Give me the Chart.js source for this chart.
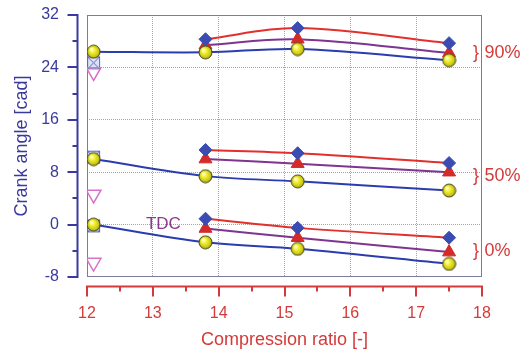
<!DOCTYPE html>
<html><head><meta charset="utf-8">
<script src="https://cdn.jsdelivr.net/npm/chart.js@4"></script>
<style>html,body{margin:0;padding:0;background:#fff;}#wrap{width:528px;height:360px;}</style>
</head><body><div id="wrap"><canvas id="c" width="528" height="360"></canvas></div>
<script>
// ---- data ----
const ratioAll = [12.1, 13.8, 15.2, 17.5];      // compression ratios (blue / circle series)
const ratioNew = [13.8, 15.2, 17.5];            // compression ratios (red & purple series)
const ratioRef = [12.1, 12.1, 12.1];            // reference engine markers

const circle90 = [26.4, 26.3, 26.8, 25.1];
const circle50 = [10.0, 7.4, 6.6, 5.2];
const circle0  = [0.0, -2.7, -3.7, -6.0];

const diamond90 = [28.3, 30.0, 27.7];
const diamond50 = [11.4, 10.9, 9.4];
const diamond0  = [0.9, -0.5, -2.0];

const triangle90 = [27.4, 28.3, 26.2];
const triangle50 = [10.0, 9.3, 8.0];
const triangle0  = [-0.6, -2.0, -4.2];

const squareRef = [24.7, 10.3, -0.2];
const downRef   = [23.3, 4.6, -5.8];

const groupLabels = ['90%', '50%', '0%'];
const groupLabelValues = [26.2, 7.4, -4.0];
const tdcText = 'TDC';
const tdcAt = [13.16, 0.0];

const xTitle = 'Compression ratio [-]';
const yTitle = 'Crank angle [cad]';

// ---- styles ----
const FONT = "'Liberation Sans', Arial, Helvetica, sans-serif";
const BLUE_AXIS = '#3a3a9e';
const RED_AXIS = '#d43a3a';
const C_BLUE = '#2b3cae';
const C_RED = '#e2302c';
const C_PURPLE = '#7e3590';
const NONE = 'rgba(0,0,0,0)';

function pts(xs, ys) { return xs.map((x, i) => ({x: x, y: ys[i]})); }

function sphere(r) {
  const c = document.createElement('canvas');
  const s = Math.ceil(2 * r + 2);
  c.width = c.height = s;
  const g = c.getContext('2d');
  const cx = s / 2, cy = s / 2;
  const grad = g.createRadialGradient(cx - r * 0.35, cy - r * 0.4, 0.5, cx, cy, r);
  grad.addColorStop(0, '#ffffe0');
  grad.addColorStop(0.35, '#f4f23a');
  grad.addColorStop(0.85, '#c8c410');
  grad.addColorStop(1, '#8a8600');
  g.fillStyle = grad;
  g.beginPath(); g.arc(cx, cy, r, 0, Math.PI * 2); g.fill();
  g.strokeStyle = '#4a4a20'; g.lineWidth = 1; g.stroke();
  return c;
}
function squareX(h) {
  const c = document.createElement('canvas');
  const s = 2 * h + 2;
  c.width = c.height = s;
  const g = c.getContext('2d');
  g.fillStyle = 'rgba(190,200,240,0.55)';
  g.fillRect(1, 1, 2 * h, 2 * h);
  g.strokeStyle = '#5a68c0'; g.lineWidth = 1;
  g.strokeRect(1.5, 1.5, 2 * h - 1, 2 * h - 1);
  g.beginPath(); g.moveTo(2, 2); g.lineTo(s - 2, s - 2); g.moveTo(s - 2, 2); g.lineTo(2, s - 2); g.stroke();
  return c;
}
const ball = sphere(6.5);
const sqx = squareX(6.5);

function lineSet(xs, ys, color, style, radius, fill, order) {
  return {
    data: pts(xs, ys), showLine: true, borderColor: color, borderWidth: 2,
    tension: 0.35, pointStyle: style, pointRadius: radius, pointHoverRadius: radius,
    pointBackgroundColor: fill, pointBorderColor: fill, pointBorderWidth: 1, order: order
  };
}
function markerSet(xs, ys, style, radius, fill, border, rot, order) {
  return {
    data: pts(xs, ys), showLine: false, pointStyle: style, pointRadius: radius,
    pointHoverRadius: radius, pointBackgroundColor: fill, pointBorderColor: border,
    pointBorderWidth: 1.5, pointRotation: rot, order: order
  };
}

const datasets = [
  lineSet(ratioAll, circle90, C_BLUE, ball, 7, '#e8e830', 1),
  lineSet(ratioAll, circle50, C_BLUE, ball, 7, '#e8e830', 1),
  lineSet(ratioAll, circle0, C_BLUE, ball, 7, '#e8e830', 1),
  lineSet(ratioNew, diamond90, C_RED, 'rectRot', 6.5, '#3a4cb2', 2),
  lineSet(ratioNew, diamond50, C_RED, 'rectRot', 6.5, '#3a4cb2', 2),
  lineSet(ratioNew, diamond0, C_RED, 'rectRot', 6.5, '#3a4cb2', 2),
  lineSet(ratioNew, triangle90, C_PURPLE, 'triangle', 7.5, '#d42a2a', 3),
  lineSet(ratioNew, triangle50, C_PURPLE, 'triangle', 7.5, '#d42a2a', 3),
  lineSet(ratioNew, triangle0, C_PURPLE, 'triangle', 7.5, '#d42a2a', 3),
  markerSet(ratioRef, squareRef, sqx, 7, '#c8d0f0', '#5a68c0', 0, 5),
  markerSet(ratioRef, downRef, 'triangle', 8.5, NONE, '#d872c8', 180, 4)
];

const decor = {
  id: 'decor',
  beforeDatasetsDraw(chart) {
    const {ctx, chartArea: a} = chart;
    ctx.save();
    ctx.strokeStyle = '#7c7c9a'; ctx.lineWidth = 1;
    ctx.strokeRect(Math.round(a.left) + 0.5, Math.round(a.top) + 0.5,
      Math.round(a.right - a.left) - 1, Math.round(a.bottom - a.top) - 1);
    ctx.restore();
  },
  afterDraw(chart) {
    const {ctx, chartArea: a, scales: {x, y}} = chart;
    ctx.save();
    // offset left axis
    const ax = Math.round(a.left) - 9.5;
    ctx.strokeStyle = BLUE_AXIS; ctx.lineWidth = 2;
    ctx.beginPath();
    ctx.moveTo(ax, y.getPixelForValue(y.max)); ctx.lineTo(ax, y.getPixelForValue(y.min));
    y.ticks.forEach(t => {
      const py = Math.round(y.getPixelForValue(t.value));
      const len = (t.value % 8 === 0) ? 10 : 5;
      ctx.moveTo(ax + 1, py); ctx.lineTo(ax - len, py);
    });
    ctx.stroke();
    // offset bottom axis
    const ay = Math.round(a.bottom) + 9.5;
    ctx.strokeStyle = RED_AXIS; ctx.lineWidth = 2;
    ctx.beginPath();
    ctx.moveTo(x.getPixelForValue(x.min), ay); ctx.lineTo(x.getPixelForValue(x.max), ay);
    x.ticks.forEach(t => {
      const px = Math.round(x.getPixelForValue(t.value));
      const len = Number.isInteger(t.value) ? 10 : 5;
      ctx.moveTo(px, ay - 1); ctx.lineTo(px, ay + len);
    });
    ctx.stroke();
    // group labels on the right
    ctx.fillStyle = RED_AXIS; ctx.textBaseline = 'middle'; ctx.textAlign = 'left';
    ctx.font = '18px ' + FONT;
    groupLabels.forEach((s, i) => {
      const py = y.getPixelForValue(groupLabelValues[i]);
      ctx.fillText('}', a.right - 9, py);
      ctx.fillText(s, a.right + 2.5, py);
    });
    // TDC
    ctx.fillStyle = '#8a3a8c'; ctx.textAlign = 'center';
    ctx.font = '17px ' + FONT;
    ctx.fillText(tdcText, x.getPixelForValue(tdcAt[0]), y.getPixelForValue(tdcAt[1]));
    ctx.restore();
  }
};

const GRID = '#9ca3d2';
new Chart(document.getElementById('c'), {
  type: 'scatter',
  data: {datasets: datasets},
  options: {
    responsive: false, animation: false,
    layout: {padding: {left: 10, right: 46, top: 15, bottom: 9}},
    plugins: {legend: {display: false}, tooltip: {enabled: false}},
    scales: {
      x: {
        type: 'linear', min: 12, max: 18,
        border: {display: false, dash: [1, 1]},
        grid: {
          drawTicks: true, tickLength: 27, tickColor: NONE, lineWidth: 1,
          color: c => (Number.isInteger(c.tick.value) && c.tick.value > 12 && c.tick.value < 18) ? GRID : NONE
        },
        ticks: {
          stepSize: 0.5, autoSkip: false, maxRotation: 0, padding: 0,
          color: RED_AXIS, font: {family: FONT, size: 16},
          callback: v => Number.isInteger(v) ? String(v) : ''
        },
        title: {display: true, text: xTitle, color: RED_AXIS, font: {family: FONT, size: 18}, padding: {top: 4, bottom: 0}},
        afterFit: s => { s.height = 74; }
      },
      y: {
        type: 'linear', min: -8, max: 32,
        border: {display: false, dash: [1, 1]},
        grid: {
          drawTicks: true, tickLength: 28, tickColor: NONE, lineWidth: 1,
          color: c => (c.tick.value % 8 === 0 && c.tick.value > -8 && c.tick.value < 32) ? GRID : NONE
        },
        ticks: {
          stepSize: 4, autoSkip: false, padding: 0,
          color: BLUE_AXIS, font: {family: FONT, size: 16},
          callback: v => (v % 8 === 0) ? String(v) : ''
        },
        title: {display: true, text: yTitle, color: BLUE_AXIS, font: {family: FONT, size: 18}, padding: {top: 1, bottom: 8}},
        afterFit: s => { s.width = 77; }
      }
    }
  },
  plugins: [decor]
});
</script></body></html>
